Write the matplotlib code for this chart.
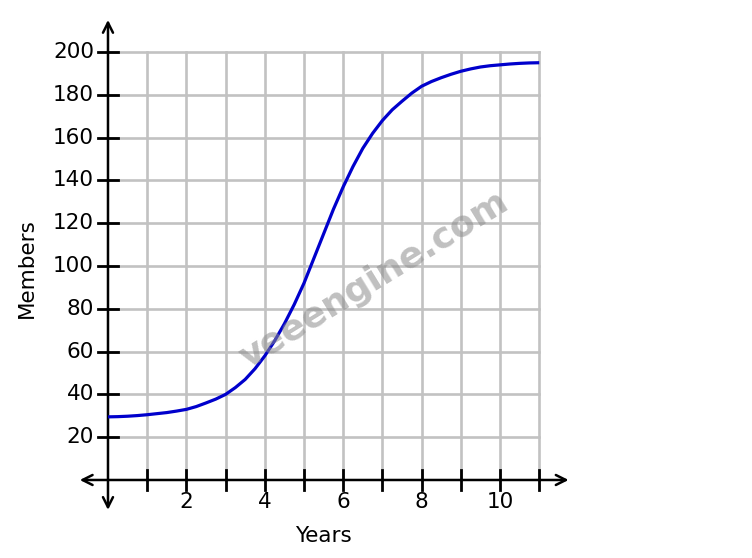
import matplotlib
matplotlib.use("Agg")
import matplotlib.pyplot as plt
import numpy as np

# values
years = [0, 0.25, 0.5, 0.75, 1, 1.25, 1.5, 1.75, 2, 2.25, 2.5, 2.75, 3,
         3.25, 3.5, 3.75, 4, 4.25, 4.5, 4.75, 5, 5.25, 5.5, 5.75, 6, 6.25,
         6.5, 6.75, 7, 7.25, 7.5, 7.75, 8, 8.25, 8.5, 8.75, 9, 9.25, 9.5,
         9.75, 10, 10.25, 10.5, 10.75, 11]
members = [29.5, 29.6, 29.8, 30.1, 30.5, 31, 31.5, 32.2, 33, 34.3, 36, 37.8,
           40, 43.2, 47, 52, 58, 65, 73, 82, 92, 103.5, 115, 126.5, 137,
           146.5, 155, 162, 168, 173, 177, 180.8, 184, 186.2, 188, 189.6, 191,
           192.1, 193, 193.6, 194, 194.4, 194.7, 194.9, 195]
xticks = [1, 2, 3, 4, 5, 6, 7, 8, 9, 10, 11]
xlabels = [2, 4, 6, 8, 10]
yticks = [20, 40, 60, 80, 100, 120, 140, 160, 180, 200]

fig = plt.figure(figsize=(7.52, 5.58), dpi=100)
ax = fig.add_axes([70 / 752, 1 - 520 / 558, 510 / 752, 505 / 558])
ax.set_xlim(-0.969, 12.04)
ax.set_ylim(-18.7, 217.3)
ax.axis("off")

grid_c = "#c2c2c2"
for x in xticks:
    ax.plot([x, x], [0, 200], color=grid_c, lw=1.9, zorder=1)
for y in yticks:
    ax.plot([0, 11], [y, y], color=grid_c, lw=1.9, zorder=1)

# axes with arrows
ax.annotate("", xy=(11.75, 0), xytext=(-0.72, 0),
            arrowprops=dict(arrowstyle="<->", color="black", lw=1.8,
                            mutation_scale=18, shrinkA=0, shrinkB=0), zorder=3)
ax.annotate("", xy=(0, 215), xytext=(0, -14),
            arrowprops=dict(arrowstyle="<->", color="black", lw=1.8,
                            mutation_scale=18, shrinkA=0, shrinkB=0), zorder=3)

fs = 15.5
for x in xticks:
    ax.plot([x, x], [-4.7, 4.7], color="black", lw=2, zorder=3)
for y in yticks:
    ax.plot([-0.25, 0.25], [y, y], color="black", lw=2, zorder=3)
    ax.text(-0.36, y, str(y), ha="right", va="center", fontsize=fs)
for x in xlabels:
    ax.text(x, -10.5, str(x), ha="center", va="center", fontsize=fs)

ax.plot(years, members, color="#0000cc", lw=2.3, zorder=4, solid_capstyle="butt")

ax.text(5.5, -26, "Years", ha="center", va="center", fontsize=fs, clip_on=False)
ax.text(-2.08, 99, "Members", ha="center", va="center", rotation=90,
        fontsize=fs, clip_on=False)

ax.text(6.8, 93.5, "veeengine.com", ha="center", va="center", rotation=31.5,
        fontsize=26, fontweight="bold", color="#8c8c8c", alpha=0.55, zorder=5)

fig.savefig("out.png", dpi=100)
